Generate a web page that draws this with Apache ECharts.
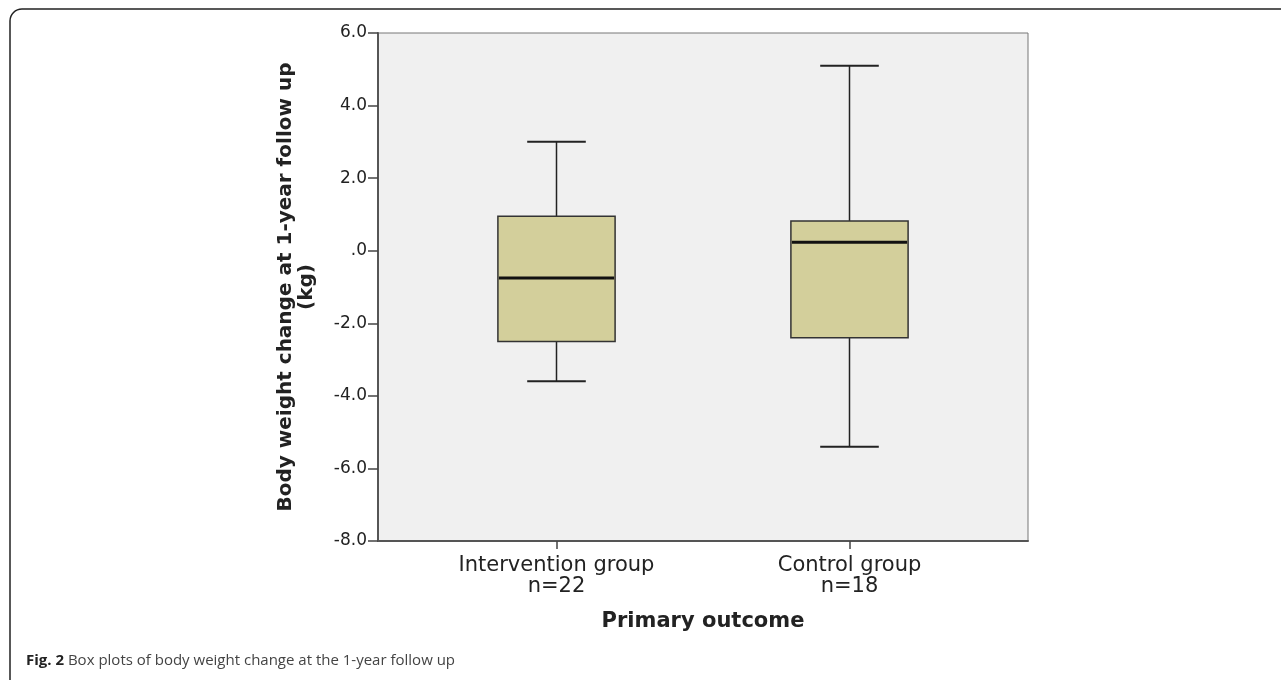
<!DOCTYPE html>
<html>
<head>
<meta charset="utf-8">
<script src="https://cdn.jsdelivr.net/npm/echarts@6/dist/echarts.min.js"></script>
<style>html,body{margin:0;padding:0;background:#fff;}#chart{width:1281px;height:680px;}</style>
</head>
<body>
<div id="chart"></div>
<script>
// ---- data ----
const groupNames = ['Intervention group', 'Control group'];
const groupN = [22, 18];
const lowWhisker = [-3.6, -5.4];
const q1 = [-2.5, -2.4];
const median = [-0.75, 0.23];
const q3 = [0.95, 0.82];
const highWhisker = [3.0, 5.1];
const yTicks = { min: -8, max: 6, step: 2 };

const categories = groupNames.map((g, i) => g + '\nn=' + groupN[i]);
const boxData = categories.map((c, i) => [i, lowWhisker[i], q1[i], median[i], q3[i], highWhisker[i]]);

function renderItem(params, api) {
  const x = api.value(0);
  const pLow = api.coord([x, api.value(1)]);
  const pQ1 = api.coord([x, api.value(2)]);
  const pMed = api.coord([x, api.value(3)]);
  const pQ3 = api.coord([x, api.value(4)]);
  const pHigh = api.coord([x, api.value(5)]);
  const band = api.size([1, 0])[0];
  const bw = band * 0.4 / 2;
  const cw = band * 0.2 / 2;
  const cx = pMed[0];
  const ls = { stroke: '#222', lineWidth: 1.5 };
  const cs = { stroke: '#222', lineWidth: 2 };
  return {
    type: 'group',
    children: [
      { type: 'line', shape: { x1: cx, y1: pHigh[1], x2: cx, y2: pQ3[1] }, style: ls },
      { type: 'line', shape: { x1: cx, y1: pQ1[1], x2: cx, y2: pLow[1] }, style: ls },
      { type: 'line', shape: { x1: cx - cw, y1: pHigh[1], x2: cx + cw, y2: pHigh[1] }, style: cs },
      { type: 'line', shape: { x1: cx - cw, y1: pLow[1], x2: cx + cw, y2: pLow[1] }, style: cs },
      { type: 'rect', shape: { x: cx - bw, y: pQ3[1], width: 2 * bw, height: pQ1[1] - pQ3[1] },
        style: { fill: '#d3cf9b', stroke: '#333', lineWidth: 1.5 } },
      { type: 'line', shape: { x1: cx - bw + 1, y1: pMed[1], x2: cx + bw - 1, y2: pMed[1] },
        style: { stroke: '#111', lineWidth: 3 } }
    ]
  };
}

const chart = echarts.init(document.getElementById('chart'), null, { renderer: 'canvas' });
chart.setOption({
  animation: false,
  backgroundColor: '#fff',
  graphic: [{
    type: 'rect', z: -10,
    shape: { x: 10, y: 9, width: 1300, height: 700, r: 12 },
    style: { fill: 'none', stroke: '#222', lineWidth: 1.5 }
  }],
  title: {
    text: '{b|Fig. 2} Box plots of body weight change at the 1-year follow up',
    left: 21, top: 648,
    textStyle: {
      fontFamily: 'Open Sans', fontSize: 15, color: '#444', fontWeight: 'normal',
      rich: { b: { fontFamily: 'Open Sans', fontSize: 15, fontWeight: 'bold', color: '#222' } }
    }
  },
  grid: [
    { left: 378, right: 253, top: 33, bottom: 139, show: true, backgroundColor: '#f0f0f0', borderColor: '#777', borderWidth: 1 },
    { left: 410, right: 285, top: 33, bottom: 139, show: false }
  ],
  xAxis: [
    {
      gridIndex: 0, type: 'value', min: 0, max: 1,
      axisLine: { show: true, onZero: false, lineStyle: { color: '#555', width: 2 } },
      axisTick: { show: false }, axisLabel: { show: false }, splitLine: { show: false },
      name: 'Primary outcome', nameLocation: 'middle', nameGap: 70,
      nameTextStyle: { fontFamily: 'DejaVu Sans', fontWeight: 'bold', fontSize: 21, color: '#222' }
    },
    {
      gridIndex: 1, type: 'category', data: categories, boundaryGap: true,
      axisLine: { show: true, onZero: false, lineStyle: { color: 'rgba(0,0,0,0)' } },
      axisTick: { show: true, alignWithLabel: true, length: 8, lineStyle: { color: '#444', width: 1.5 } },
      axisLabel: { fontFamily: 'DejaVu Sans', fontSize: 21, color: '#222', lineHeight: 21, margin: 14 },
      splitLine: { show: false }
    }
  ],
  yAxis: [
    {
      gridIndex: 0, type: 'value', min: yTicks.min, max: yTicks.max, interval: yTicks.step,
      axisLine: { show: true, onZero: false, lineStyle: { color: '#555', width: 2 } },
      axisTick: { show: true, length: 10, lineStyle: { color: '#444', width: 1.5 } },
      axisLabel: {
        fontFamily: 'DejaVu Sans', fontSize: 17, color: '#222', margin: 11,
        formatter: v => (v === 0 ? '.0' : v.toFixed(1))
      },
      splitLine: { show: false },
      name: 'Body weight change at 1-year follow up\n(kg)', nameLocation: 'middle', nameGap: 61,
      nameTextStyle: { fontFamily: 'DejaVu Sans', fontWeight: 'bold', fontSize: 20, color: '#222', lineHeight: 21 }
    },
    {
      gridIndex: 1, type: 'value', min: yTicks.min, max: yTicks.max, interval: yTicks.step, show: false
    }
  ],
  series: [{
    type: 'custom', xAxisIndex: 1, yAxisIndex: 1,
    renderItem: renderItem,
    encode: { x: 0, y: [1, 2, 3, 4, 5] },
    data: boxData
  }]
});
</script>
</body>
</html>
